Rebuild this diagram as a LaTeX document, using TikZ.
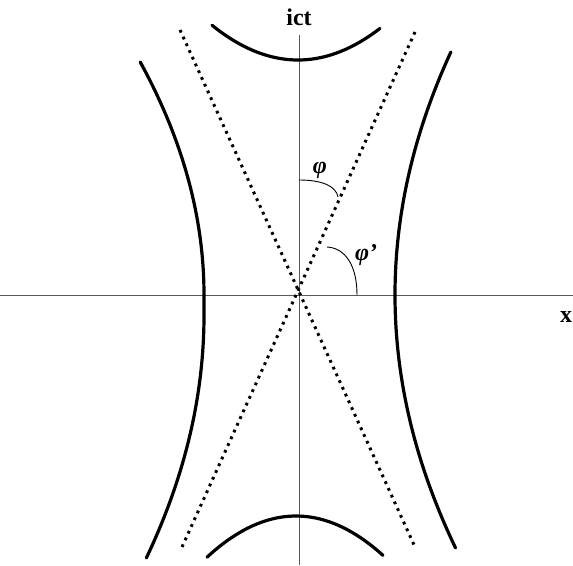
\documentclass[tikz,border=0pt]{standalone}
\usepackage{fontspec}
\setmainfont{Liberation Serif}
\begin{document}
\begin{tikzpicture}[x=1pt,y=-1pt,
  axis/.style={draw=black!65,line width=1pt},
  hyp/.style={draw=black,line width=3.2pt,line cap=round},
  asym/.style={draw=black,line width=3pt,dash pattern=on 2.8pt off 4.6pt},
  angarc/.style={draw=black,line width=0.9pt},
  lbl/.style={inner sep=0pt,font=\fontsize{24}{26}\selectfont\bfseries},
  glbl/.style={inner sep=0pt,font=\fontsize{24}{26}\selectfont\bfseries\itshape}]
\useasboundingbox (0,0) rectangle (573,565);
% axes
\coordinate (xl) at (0,295);
\coordinate (xr) at (573,295);
\coordinate (tb) at (299,565);
\coordinate (tt) at (299,35);
\coordinate (O) at (299,295);
\draw[axis] (xl) -- (xr);
\draw[axis] (tb) -- (tt);
% asymptotes
\coordinate (a1) at (180,30);
\coordinate (a2) at (415,547);
\coordinate (b1) at (415,32);
\coordinate (b2) at (182,547);
\draw[asym] (a1) -- (a2);
\draw[asym] (b1) -- (b2);
% hyperbolas
\draw[hyp] plot[domain=62:295,samples=40,variable=\t] ({204-(0.00118*(\t-295))*(\t-295)},\t)
  -- plot[domain=315:558,samples=40,variable=\t] ({204-(0.00097*(\t-315))*(\t-315)},\t);
\draw[hyp] plot[domain=52:548,samples=80,variable=\t] ({395+(0.00094*(\t-295))*(\t-295)},\t);
\draw[hyp] plot[domain=212:380,samples=40,variable=\t] (\t,{60-(0.0047*(\t-298))*(\t-298)});
\draw[hyp] plot[domain=207:383,samples=40,variable=\t] (\t,{516+(0.0052*(\t-296))*(\t-296)});
% angle arcs
\coordinate (p1) at (299,180);
\coordinate (p2) at (338,197);
\coordinate (q1) at (327,247);
\coordinate (q2) at (357,295);
\draw[angarc] (p1) .. controls (322,180) and (336,186) .. (p2);
\draw[angarc] (q1) .. controls (345,248) and (357,265) .. (q2);
% labels
\node[lbl] (ict) at (299,17) {ict};
\node[lbl] (x) at (566,317) {x};
\node[glbl] (phi) at (320,170) {φ};
\node[glbl,anchor=west] (phip) at (355,255) {φ’};
\end{tikzpicture}
\end{document}
